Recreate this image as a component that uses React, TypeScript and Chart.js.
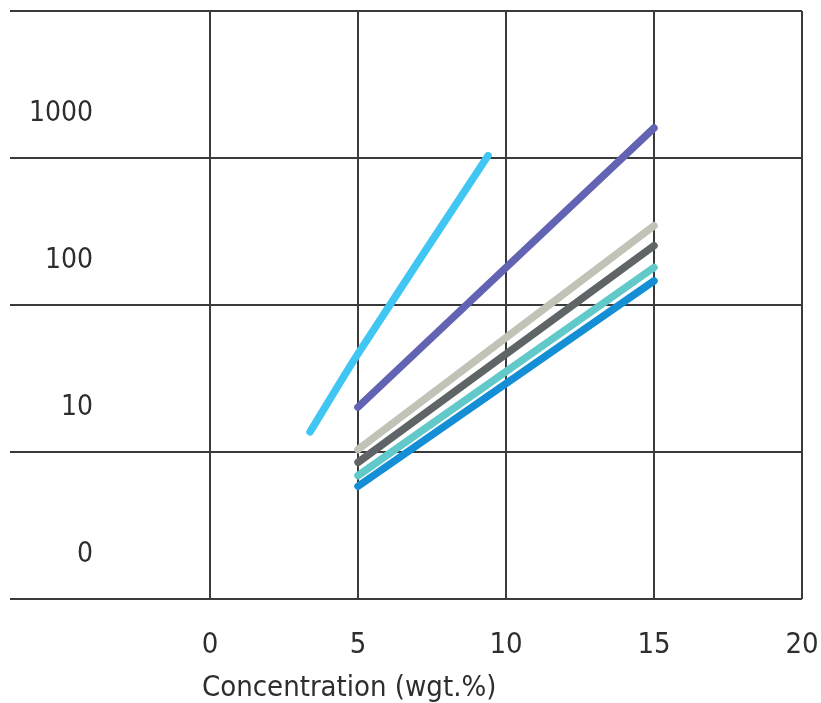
import React, { useEffect, useRef } from 'react';
import { Chart, registerables } from 'chart.js';

Chart.register(...registerables);

// ---- data ----
const X_TICKS = [0, 5, 10, 15, 20];
const X_MIN = -6.757;
const X_MAX = 20;
const Y_GRID = [1, 10, 100, 1000, 10000];
const Y_TICK_LABELS = ['0', '10', '100', '1000'];
const X_TITLE = 'Concentration (wgt.%)';

const SERIES_NAMES = ['Series A', 'Series B', 'Series C', 'Series D', 'Series E', 'Series F'];

const seriesAX = [3.38, 5, 9.39];
const seriesAY = [13.7, 46.6, 1036];

const seriesBX = [5, 15];
const seriesBY = [20.2, 1600];

const seriesCX = [5, 15];
const seriesCY = [10.4, 346];

const seriesDX = [5, 15];
const seriesDY = [8.5, 253];

const seriesEX = [5, 15];
const seriesEY = [6.9, 180];

const seriesFX = [5, 15];
const seriesFY = [5.85, 146];

const SERIES_X = [seriesAX, seriesBX, seriesCX, seriesDX, seriesEX, seriesFX];
const SERIES_Y = [seriesAY, seriesBY, seriesCY, seriesDY, seriesEY, seriesFY];
const SERIES_COLORS = ['#3fc6f2', '#6363b3', '#c2c3b7', '#5f6566', '#62c9ca', '#148fd6'];

const GRID_COLOR = '#3a3a3a';
const TEXT_COLOR = '#2e2e2e';
const FONT_FAMILY = '"DejaVu Sans Condensed", "DejaVu Sans"';

const captionPlugin = {
  id: 'xCaption',
  afterDraw(chart: any) {
    const xs = chart.scales.x;
    const ctx = chart.ctx;
    ctx.save();
    ctx.font = '29px ' + FONT_FAMILY;
    ctx.fillStyle = TEXT_COLOR;
    ctx.textAlign = 'left';
    ctx.textBaseline = 'alphabetic';
    ctx.fillText(X_TITLE, xs.getPixelForValue(0) - 8, xs.bottom - 7);
    ctx.restore();
  },
};

export default function App() {
  const ref = useRef<HTMLCanvasElement | null>(null);

  useEffect(() => {
    if (!ref.current) return;
    const datasets = SERIES_NAMES.map((name, i) => ({
      label: name,
      data: SERIES_X[i].map((x, j) => ({ x, y: SERIES_Y[i][j] })),
      borderColor: SERIES_COLORS[i],
      backgroundColor: SERIES_COLORS[i],
      borderWidth: 7.5,
      borderCapStyle: 'round' as const,
      pointRadius: 0,
      pointHoverRadius: 0,
      fill: false,
      tension: i === 0 ? 0.3 : 0,
      xAxisID: 'x',
      yAxisID: 'y',
    }));

    const chart = new Chart(ref.current, {
      type: 'line',
      data: { datasets },
      plugins: [captionPlugin],
      options: {
        responsive: false,
        animation: false,
        layout: { padding: { left: 0, right: 19, top: 11, bottom: 0 } },
        plugins: {
          legend: { display: false },
          tooltip: { enabled: false },
          title: { display: false },
        },
        scales: {
          x: {
            type: 'linear',
            min: X_MIN,
            max: X_MAX,
            afterBuildTicks: (s: any) => {
              s.ticks = X_TICKS.map((v) => ({ value: v }));
            },
            afterFit: (s: any) => {
              s.height = 104;
              s.paddingLeft = 0;
              s.paddingRight = 0;
            },
            grid: { color: GRID_COLOR, lineWidth: 2, drawTicks: false },
            border: { display: false },
            ticks: {
              padding: 29,
              autoSkip: false,
              maxRotation: 0,
              color: TEXT_COLOR,
              font: { family: FONT_FAMILY, size: 29 },
            },
          },
          y: {
            type: 'logarithmic',
            position: 'left',
            weight: 1,
            min: 1,
            max: 10000,
            afterBuildTicks: (s: any) => {
              s.ticks = Y_GRID.map((v) => ({ value: v }));
            },
            afterFit: (s: any) => {
              s.width = 0;
              s.paddingTop = 0;
              s.paddingBottom = 0;
            },
            grid: { color: GRID_COLOR, lineWidth: 2, drawTicks: false },
            border: { display: false },
            ticks: { display: false },
          },
          yLabels: {
            type: 'logarithmic',
            position: 'left',
            weight: 0,
            min: 1,
            max: 10000,
            // labels sit a little above each decade line (at 2 x decade), as in the reference
            afterBuildTicks: (s: any) => {
              s.ticks = Y_TICK_LABELS.map((_, i) => ({ value: 2 * Math.pow(10, i) }));
            },
            afterFit: (s: any) => {
              s.width = 10;
              s.paddingTop = 0;
              s.paddingBottom = 0;
            },
            grid: { display: false },
            border: { display: false },
            ticks: {
              mirror: true,
              crossAlign: 'far',
              padding: 19,
              autoSkip: false,
              color: TEXT_COLOR,
              font: { family: FONT_FAMILY, size: 28 },
              callback: (_v: any, i: number) => Y_TICK_LABELS[i],
            },
          },
        },
      } as any,
    });
    return () => chart.destroy();
  }, []);

  return (
    <div style={{ position: 'absolute', left: 0, top: 0, width: 821, height: 703 }}>
      <canvas ref={ref} width={821} height={703} style={{ display: 'block' }} />
    </div>
  );
}
